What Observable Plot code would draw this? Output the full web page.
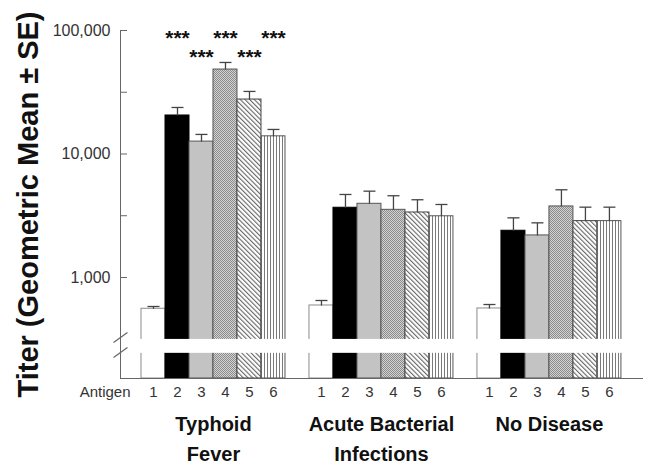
<!DOCTYPE html>
<html><head><meta charset="utf-8">
<script src="https://cdn.jsdelivr.net/npm/d3@7"></script>
<script src="https://cdn.jsdelivr.net/npm/@observablehq/plot@0.6"></script>
<style>body{margin:0;background:#fff;}</style>
</head><body><div id="chart"></div>
<script>
// ---- data ----
const groups = ["Typhoid\nFever", "Acute Bacterial\nInfections", "No Disease"];
const antigens = [1, 2, 3, 4, 5, 6];
const typhoidMean    = [558, 20500, 12600, 48300, 27600, 13900];
const typhoidUpper   = [582, 23800, 14400, 55100, 32100, 15800];
const acuteMean      = [593, 3670, 3950, 3530, 3360, 3130];
const acuteUpper     = [651, 4700, 5000, 4590, 4260, 3900];
const noDiseaseMean  = [561, 2390, 2190, 3760, 2860, 2860];
const noDiseaseUpper = [604, 3040, 2770, 5130, 3710, 3710];
const starsRow1 = [2, 4, 6];   // typhoid antigens marked *** (upper row)
const starsRow2 = [3, 5];      // typhoid antigens marked *** (lower row)
const starText = "***";
const yTicks = [1000, 10000, 100000];
const yMinorTicks = [Math.pow(10, 3.5), Math.pow(10, 4.5)];
const xAxisName = "Antigen";
const yTitle = "Titer (Geometric Mean \u00b1 SE)";

// ---- layout / styles ----
const W = 646, H = 465, mL = 120, mR = 3, mT = 30, mB = 87;
const yDomain = [152, 100000];
const breakBand = [243, 315];
const xDomain = [-0.875, 20.92];
const groupStep = 7;
const fills = ["#ffffff", "#000000", "#c3c3c3", "url(#stipple)", "url(#hatch)", "url(#vlines)"];
const strokes = ["#8a8a8a", "#000000", "#555555", "#555555", "#444444", "#555555"];

const means = [typhoidMean, acuteMean, noDiseaseMean];
const uppers = [typhoidUpper, acuteUpper, noDiseaseUpper];
const data = groups.flatMap((g, gi) => antigens.map((a, ai) => ({
  group: g, gi, antigen: a, mean: means[gi][ai], upper: uppers[gi][ai],
  x1: gi * groupStep + ai, x2: gi * groupStep + ai + 1, xc: gi * groupStep + ai + 0.5
})));
const innerW = W - mL - mR;
const font = "'Liberation Sans', Arial, Helvetica, sans-serif";

const plot = Plot.plot({
  width: W, height: H,
  marginLeft: mL, marginRight: mR, marginTop: mT, marginBottom: mB,
  x: {domain: xDomain, axis: null},
  y: {type: "log", domain: yDomain},
  color: {type: "identity"},
  style: {fontFamily: font, background: "white", overflow: "visible"},
  marks: [
    Plot.rectY(data, {x1: "x1", x2: "x2", y1: yDomain[0], y2: "mean",
      fill: d => fills[d.antigen - 1], stroke: d => strokes[d.antigen - 1], strokeWidth: 1}),
    Plot.link(data, {x1: "xc", x2: "xc", y1: "mean", y2: "upper", stroke: "#444", strokeWidth: 1.3}),
    Plot.link(data, {x1: d => d.xc - 0.25, x2: d => d.xc + 0.25, y1: "upper", y2: "upper", stroke: "#444", strokeWidth: 1.3}),
    Plot.rect([breakBand], {x1: -0.3, x2: 20.6, y1: d => d[0], y2: d => d[1], fill: "white"}),
    Plot.ruleX([xDomain[0]], {stroke: "#666", strokeWidth: 1}),
    Plot.ruleY([yDomain[0]], {stroke: "#666", strokeWidth: 1}),
    Plot.tickY(yTicks.concat(yMinorTicks), {y: d => d, insetRight: innerW - 7, stroke: "#666"}),
    Plot.link([[298, 359], [225, 271]], {x1: xDomain[0] - 0.29, x2: xDomain[0] + 0.29, y1: d => d[0], y2: d => d[1], stroke: "#666", strokeWidth: 1.2}),
    Plot.axisY({ticks: yTicks, tickFormat: d3.format(","), tickSize: 0, tickPadding: 10, fontSize: 16, color: "#333", label: null}),
    Plot.text(data, {x: "xc", text: "antigen", frameAnchor: "bottom", lineAnchor: "middle", dy: 14, fontSize: 15, fill: "#333"}),
    Plot.text([xAxisName], {text: d => d, frameAnchor: "bottom-left", textAnchor: "end", lineAnchor: "middle", dx: 10, dy: 14, fontSize: 15, fill: "#333"}),
    Plot.text(groups, {x: (d, i) => i * groupStep + 3, text: d => d, frameAnchor: "bottom", lineAnchor: "top", dy: 31, fontSize: 20, fontWeight: "bold", lineHeight: 1.5, fill: "#111"}),
    Plot.text(starsRow1, {x: a => a - 0.5, text: () => starText, frameAnchor: "top", lineAnchor: "middle", dy: 8, fontSize: 21, fontWeight: "bold", fill: "#111"}),
    Plot.text(starsRow2, {x: a => a - 0.5, text: () => starText, frameAnchor: "top", lineAnchor: "middle", dy: 27, fontSize: 21, fontWeight: "bold", fill: "#111"}),
    Plot.text([yTitle], {text: d => d, frameAnchor: "left", textAnchor: "middle", rotate: -90, dx: -92, fontSize: 29, fontWeight: "bold", fill: "#111"})
  ]
});

d3.select(plot).insert("defs", ":first-child").html(`
  <pattern id="stipple" patternUnits="userSpaceOnUse" width="2" height="2">
    <rect width="2" height="2" fill="#d2d2d2"/>
    <rect x="0" y="0" width="1" height="1" fill="#8c8c8c"/>
    <rect x="1" y="1" width="1" height="1" fill="#8c8c8c"/>
  </pattern>
  <pattern id="hatch" patternUnits="userSpaceOnUse" width="3.3" height="3.3" patternTransform="rotate(-45)">
    <rect width="3.3" height="3.3" fill="#ffffff"/>
    <rect x="0" y="0" width="1.1" height="3.3" fill="#666"/>
  </pattern>
  <pattern id="vlines" patternUnits="userSpaceOnUse" width="3" height="10">
    <rect width="3" height="10" fill="#ffffff"/>
    <rect x="0" y="0" width="1" height="10" fill="#7a7a7a"/>
  </pattern>`);

document.getElementById("chart").appendChild(plot);
</script>
</body></html>
